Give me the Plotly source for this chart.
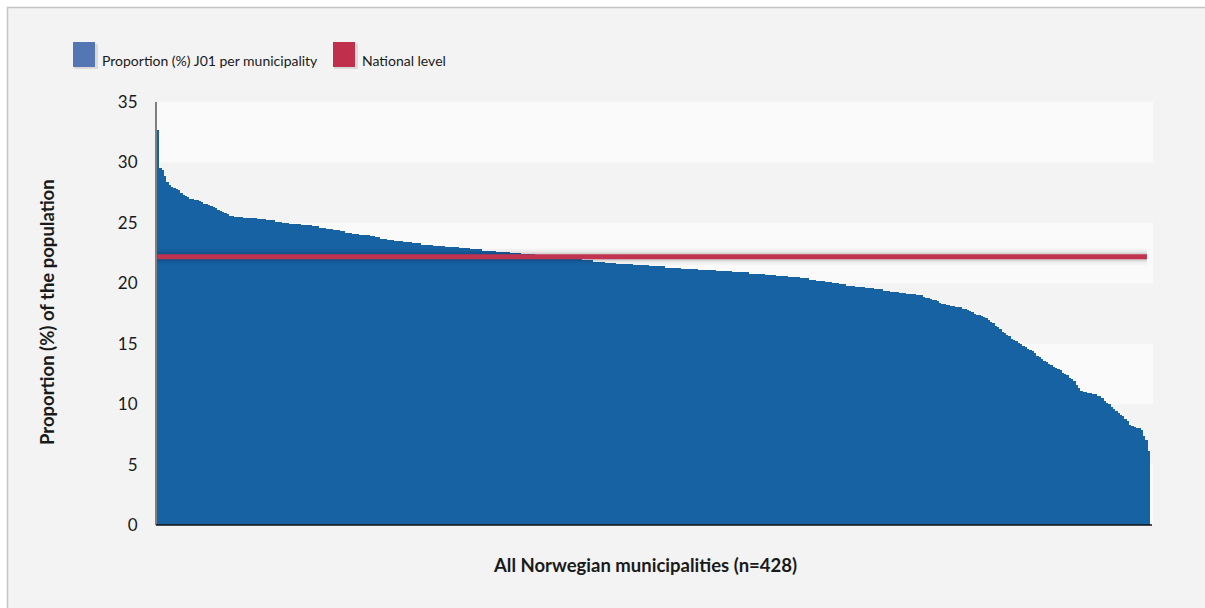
import plotly.graph_objects as go

# ---- data (sorted descending) ----
values = [
    32.7, 29.5, 29.4, 28.9, 28.4, 28.1,
    28.0, 27.9, 27.8, 27.7, 27.5,
    27.3, 27.2, 27.1, 27.0, 27.0, 26.9, 26.9, 26.8,
    26.7, 26.6, 26.6, 26.5, 26.4, 26.3, 26.2, 26.1, 26.0, 25.9,
    25.8, 25.7, 25.6, 25.6, 25.5, 25.5, 25.5, 25.5, 25.4, 25.4, 25.4, 25.4, 25.4, 25.4, 25.3,
    25.3, 25.3, 25.3, 25.2, 25.2, 25.2, 25.2, 25.1, 25.1, 25.1, 25.0, 25.0, 25.0,
    24.9, 24.9, 24.9, 24.9, 24.9, 24.8, 24.8, 24.8, 24.8, 24.8, 24.7, 24.7, 24.7,
    24.6, 24.6, 24.6, 24.5, 24.5, 24.5, 24.4, 24.4, 24.4, 24.3,
    24.3, 24.2, 24.2, 24.2, 24.1, 24.1, 24.1, 24.0, 24.0, 24.0, 24.0, 24.0, 23.9,
    23.9, 23.8, 23.8, 23.7, 23.7, 23.7, 23.6, 23.6, 23.6, 23.5, 23.5, 23.5, 23.5, 23.4, 23.4, 23.4, 23.4, 23.3, 23.3, 23.3, 23.3,
    23.2, 23.2, 23.2, 23.2, 23.2, 23.1, 23.1, 23.1, 23.1, 23.1, 23.0, 23.0, 23.0, 23.0, 23.0, 23.0, 22.9, 22.9, 22.9, 22.9, 22.9,
    22.8, 22.8, 22.8, 22.8, 22.8, 22.7, 22.7, 22.7, 22.7, 22.7, 22.7, 22.6, 22.6, 22.6, 22.6, 22.6, 22.6,
    22.5, 22.5, 22.5, 22.5, 22.5, 22.4, 22.4, 22.4, 22.4, 22.4, 22.4,
    22.3, 22.3, 22.3, 22.3, 22.3, 22.2, 22.2, 22.2, 22.2, 22.2, 22.1, 22.1, 22.1, 22.1, 22.1, 22.0, 22.0, 22.0, 22.0, 22.0,
    21.9, 21.9, 21.9, 21.9, 21.9, 21.8, 21.8, 21.8, 21.8, 21.8, 21.7, 21.7, 21.7, 21.7, 21.7,
    21.6, 21.6, 21.6, 21.6, 21.6, 21.6, 21.6, 21.5, 21.5, 21.5, 21.5, 21.5, 21.5, 21.5, 21.4, 21.4, 21.4, 21.4, 21.4, 21.4, 21.4,
    21.3, 21.3, 21.3, 21.3, 21.3, 21.3, 21.3, 21.2, 21.2, 21.2, 21.2, 21.2, 21.2, 21.2, 21.1, 21.1, 21.1, 21.1, 21.1, 21.1, 21.1, 21.1,
    21.0, 21.0, 21.0, 21.0, 21.0, 21.0, 21.0, 20.9, 20.9, 20.9, 20.9, 20.9, 20.9, 20.9, 20.8, 20.8, 20.8, 20.8, 20.8, 20.8, 20.8,
    20.7, 20.7, 20.7, 20.7, 20.7, 20.6, 20.6, 20.6, 20.6, 20.6, 20.5, 20.5, 20.5, 20.5, 20.5,
    20.4, 20.4, 20.4, 20.4, 20.3, 20.3, 20.3, 20.2, 20.2, 20.2, 20.2, 20.1, 20.1, 20.1,
    20.0, 20.0, 20.0, 19.9, 19.9, 19.9, 19.8, 19.8, 19.8, 19.8,
    19.7, 19.7, 19.7, 19.7, 19.6, 19.6, 19.6, 19.6, 19.5, 19.5, 19.5, 19.5, 19.4, 19.4, 19.4,
    19.3, 19.3, 19.3, 19.3, 19.2, 19.2, 19.2, 19.1, 19.1, 19.1, 19.1, 19.0, 19.0, 19.0,
    18.9, 18.8, 18.8, 18.7, 18.6, 18.6, 18.5, 18.4, 18.3, 18.3, 18.2,
    18.2, 18.1, 18.1, 18.0, 18.0, 18.0, 17.9, 17.9, 17.8,
    17.7, 17.6, 17.5, 17.4, 17.4, 17.3, 17.2, 17.1, 17.0,
    16.8, 16.7, 16.5, 16.4, 16.2,
    16.0, 15.9, 15.7, 15.6, 15.4, 15.3, 15.2, 15.1, 15.0,
    14.8, 14.7, 14.6, 14.5, 14.4, 14.2,
    14.0, 13.9, 13.7, 13.6, 13.5, 13.3, 13.2,
    13.1, 13.0, 12.9, 12.8, 12.6, 12.5, 12.4,
    12.2, 12.1, 11.9, 11.6, 11.3, 11.1,
    11.0, 11.0, 10.9, 10.9, 10.8, 10.8, 10.7, 10.7,
    10.5, 10.3, 10.1, 10.0, 9.8, 9.6,
    9.4, 9.3, 9.1, 9.0, 8.8, 8.6,
    8.3, 8.2, 8.1, 8.0, 8.0, 7.9,
    7.4, 7.0, 6.1,
]
national_level = 22.2
series_names = ["Proportion (%) J01 per municipality", "National level"]
y_ticks = [0, 5, 10, 15, 20, 25, 30, 35]
y_title = "Proportion (%) of the population"
x_title = f"All Norwegian municipalities (n={len(values)})"

# ---- geometry (page margin removed, figure at the window origin) ----
W, H = 1205, 608
L, R, T, B = 156, 52, 102, 83
pw, ph = W - L - R, H - T - B

def px_x(p):  # screen pixel -> paper x
    return (p - L) / pw

def px_y(p):  # screen pixel -> paper y
    return (H - B - p) / ph

idx = list(range(len(values)))
n = len(values)

BAR = "#1762a3"
RED = "#c1334f"
FONT = "Lato, 'Open Sans', sans-serif"

fig = go.Figure()

fig.add_trace(go.Bar(
    x=idx, y=values, width=1.0, marker=dict(color=BAR, line=dict(width=0)),
    name=series_names[0], showlegend=False, hoverinfo="y",
))
# soft shadow under the national line
for w_, a_ in [(16, 0.035), (11, 0.05), (8, 0.07)]:
    fig.add_trace(go.Scatter(
        x=[idx[0] - 0.4, idx[-1] - 0.8], y=[national_level, national_level],
        mode="lines", line=dict(color=f"rgba(0,0,0,{a_})", width=w_),
        showlegend=False, hoverinfo="skip",
    ))
fig.add_trace(go.Scatter(
    x=[idx[0] - 0.4, idx[-1] - 0.8], y=[national_level, national_level],
    mode="lines", line=dict(color=RED, width=5),
    name=series_names[1], showlegend=False, hoverinfo="y",
))

shapes = []
# grey panel with a thin frame, leaving a white strip at top and left
shapes.append(dict(type="rect", xref="paper", yref="paper",
                   x0=px_x(7.5), x1=px_x(W + 10), y0=px_y(H + 10), y1=px_y(7.5),
                   fillcolor="#f3f3f3", line=dict(color="#c4c4c4", width=1.5), layer="below"))
# alternating bands
for lo in y_ticks[:-1]:
    if (lo // 5) % 2 == 0:
        shapes.append(dict(type="rect", xref="paper", yref="y", x0=0, x1=1,
                           y0=lo, y1=lo + 5, fillcolor="#fafafa",
                           line=dict(width=0), layer="below"))
# axis lines
shapes.append(dict(type="line", xref="paper", yref="paper", x0=0, x1=0, y0=0, y1=1,
                   line=dict(color="#7f7f7f", width=2), layer="above"))
shapes.append(dict(type="line", xref="paper", yref="paper", x0=0, x1=px_x(1152), y0=0, y1=0,
                   line=dict(color="#111111", width=1.5), layer="above"))

# legend swatches
legend_items = [(73, series_names[0], "#5477b3"), (333, series_names[1], "#c0304c")]
annotations = []
for x0, name, col in legend_items:
    shapes.append(dict(type="rect", xref="paper", yref="paper",
                       x0=px_x(x0 + 1), x1=px_x(x0 + 25), y0=px_y(69), y1=px_y(44),
                       fillcolor="rgba(0,0,0,0.10)", line=dict(width=0), layer="below"))
    shapes.append(dict(type="rect", xref="paper", yref="paper",
                       x0=px_x(x0), x1=px_x(x0 + 22), y0=px_y(67), y1=px_y(42),
                       fillcolor=col, line=dict(width=0), layer="above"))
    annotations.append(dict(xref="paper", yref="paper", x=px_x(x0 + 27), y=px_y(60),
                            text=name, showarrow=False, xanchor="left", yanchor="middle",
                            font=dict(family=FONT, size=14, color="#1a1a1a")))

annotations.append(dict(xref="paper", yref="paper", x=px_x(645), y=px_y(565),
                        text=f"<b>{x_title}</b>", showarrow=False,
                        xanchor="center", yanchor="middle",
                        font=dict(family=FONT, size=18.5, color="#1a1a1a")))
annotations.append(dict(xref="paper", yref="paper", x=px_x(47), y=px_y(312),
                        text=f"<b>{y_title}</b>", showarrow=False, textangle=-90,
                        xanchor="center", yanchor="middle",
                        font=dict(family=FONT, size=18.5, color="#1a1a1a")))

fig.update_layout(
    width=W, height=H,
    margin=dict(l=L, r=R, t=T, b=B, pad=0),
    paper_bgcolor="white", plot_bgcolor="rgba(0,0,0,0)",
    bargap=0, showlegend=False,
    shapes=shapes, annotations=annotations,
    font=dict(family=FONT, color="#1a1a1a"),
)
fig.update_xaxes(range=[-0.93, n + 0.8], showticklabels=False, showgrid=False,
                 zeroline=False, showline=False, ticks="")
fig.update_yaxes(range=[0, 35], tickvals=y_ticks, showgrid=False, zeroline=False,
                 showline=False, ticks="outside", ticklen=14, tickcolor="rgba(0,0,0,0)",
                 tickfont=dict(family=FONT, size=17, color="#1a1a1a"))

fig.write_html(
    "out.html",
    config={"displayModeBar": False},
    post_script=("document.body.style.margin='0';"
                 "document.body.style.overflow='hidden';"
                 "document.documentElement.style.overflow='hidden';"),
)
